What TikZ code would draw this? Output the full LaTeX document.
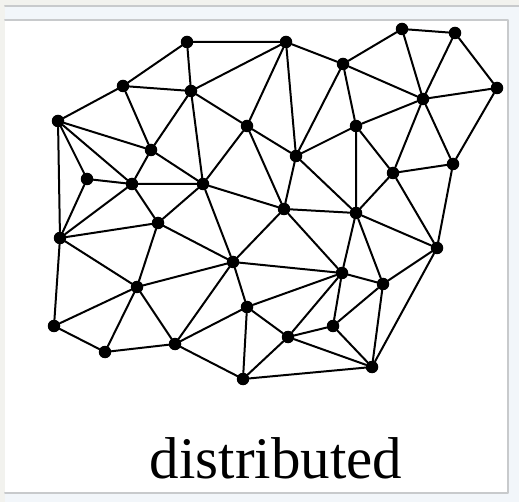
\documentclass[tikz,border=0pt]{standalone}
\usepackage{fontspec}
\setmainfont{Liberation Serif}
\usepackage{tikz}

\definecolor{pagebg}{HTML}{F2F2EE}
\definecolor{bandbg}{HTML}{F2F6FA}
\definecolor{rulegray}{HTML}{C8CACC}

\tikzset{
  dot/.style={circle, fill=black, inner sep=0pt, minimum size=12.5pt},
  edge/.style={draw=black, line width=2pt}
}

\begin{document}
\begin{tikzpicture}[x=1pt, y=-1pt, line join=round, line cap=round]
\useasboundingbox (0,0) rectangle (519,502);
% frame
\fill[pagebg] (0,0) rectangle (519,502);
\fill[bandbg] (5,6) rectangle (519,502);
\draw[rulegray, line width=2pt] (5,6) -- (519,6);
\fill[white] (5,20) rectangle (508,493);
\draw[rulegray, line width=2pt] (5,20) -- (508,20) -- (508,493) -- (5,493);
% points
\node[dot] (p1) at (187,42) {};
\node[dot] (p2) at (286,42) {};
\node[dot] (p3) at (123,86) {};
\node[dot] (p4) at (191,91) {};
\node[dot] (p5) at (58,121) {};
\node[dot] (p6) at (151,150) {};
\node[dot] (p7) at (87,179) {};
\node[dot] (p8) at (132,184) {};
\node[dot] (p9) at (203,184) {};
\node[dot] (p10) at (247,126) {};
\node[dot] (p11) at (343,64) {};
\node[dot] (p12) at (402,29) {};
\node[dot] (p13) at (455,33) {};
\node[dot] (p14) at (497,88) {};
\node[dot] (p15) at (423,99) {};
\node[dot] (p16) at (356,126) {};
\node[dot] (p17) at (296,156) {};
\node[dot] (p18) at (393,173) {};
\node[dot] (p19) at (453,164) {};
\node[dot] (p20) at (158,223) {};
\node[dot] (p21) at (60,238) {};
\node[dot] (p22) at (284,209) {};
\node[dot] (p23) at (356,213) {};
\node[dot] (p24) at (437,248) {};
\node[dot] (p25) at (233,262) {};
\node[dot] (p26) at (137,287) {};
\node[dot] (p27) at (54,326) {};
\node[dot] (p28) at (105,352) {};
\node[dot] (p29) at (175,344) {};
\node[dot] (p30) at (247,307) {};
\node[dot] (p31) at (342,273) {};
\node[dot] (p32) at (383,284) {};
\node[dot] (p33) at (288,337) {};
\node[dot] (p34) at (333,326) {};
\node[dot] (p35) at (372,367) {};
\node[dot] (p36) at (243,379) {};
% links
\draw[edge] (p1) -- (p2) -- (p11) -- (p12) -- (p13) -- (p14) -- (p19) -- (p24) -- (p35) -- (p36);
\draw[edge] (p1) -- (p3) -- (p5) -- (p21) -- (p27) -- (p28) -- (p29) -- (p36);
\draw[edge] (p1) -- (p4) -- (p2) -- (p10) -- (p4) -- (p3) -- (p6) -- (p4);
\draw[edge] (p4) -- (p9) -- (p10) -- (p17) -- (p2);
\draw[edge] (p5) -- (p6) -- (p8) -- (p5) -- (p7) -- (p8) -- (p9) -- (p6);
\draw[edge] (p7) -- (p21) -- (p8) -- (p20) -- (p9);
\draw[edge] (p9) -- (p22) -- (p10);
\draw[edge] (p11) -- (p15) -- (p12);
\draw[edge] (p13) -- (p15) -- (p14);
\draw[edge] (p11) -- (p16) -- (p15) -- (p18) -- (p16) -- (p17) -- (p11);
\draw[edge] (p15) -- (p19) -- (p18) -- (p24);
\draw[edge] (p16) -- (p23) -- (p17) -- (p22) -- (p23) -- (p18);
\draw[edge] (p20) -- (p21) -- (p26) -- (p20) -- (p25) -- (p9);
\draw[edge] (p22) -- (p25) -- (p31) -- (p22);
\draw[edge] (p23) -- (p31) -- (p32) -- (p23) -- (p24) -- (p32);
\draw[edge] (p25) -- (p26) -- (p27);
\draw[edge] (p26) -- (p28);
\draw[edge] (p26) -- (p29) -- (p25) -- (p30) -- (p29);
\draw[edge] (p30) -- (p31) -- (p33) -- (p30) -- (p36) -- (p33);
\draw[edge] (p31) -- (p34) -- (p32) -- (p35) -- (p34) -- (p33) -- (p35);
% caption
\node[anchor=base, inner sep=0pt, font=\fontsize{59}{60}\selectfont] (caption) at (276,478) {distributed};
\end{tikzpicture}
\end{document}
